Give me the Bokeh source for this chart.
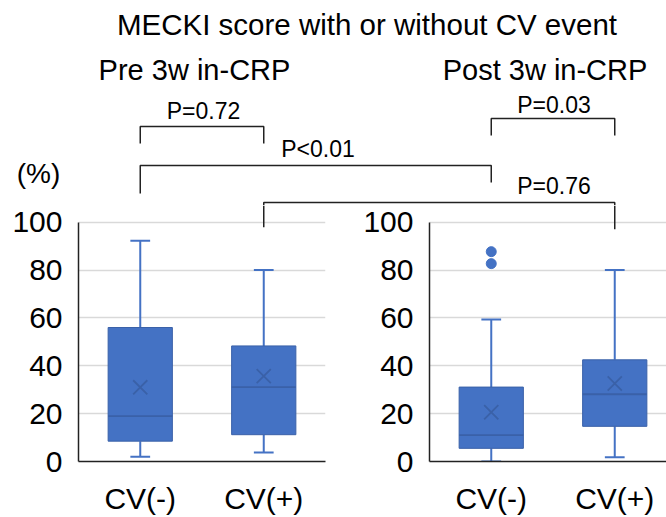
from bokeh.plotting import figure
from bokeh.layouts import column, row
from bokeh.models import Range1d, FixedTicker, ColumnDataSource
from bokeh.core.properties import value
from bokeh.embed import file_html
from bokeh.resources import INLINE

# ---------------- data ----------------
categories = ["CV(-)", "CV(+)"]
y_ticks = [0, 20, 40, 60, 80, 100]

pre_low = [2.0, 3.8]
pre_q1 = [8.5, 11.2]
pre_median = [19.0, 31.1]
pre_q3 = [56.0, 48.3]
pre_high = [92.3, 80.0]
pre_mean = [31.0, 35.7]

post_low = [0.0, 1.8]
post_q1 = [5.5, 14.7]
post_median = [11.0, 28.1]
post_q3 = [31.1, 42.5]
post_high = [59.4, 80.0]
post_mean = [20.6, 32.6]
post_outlier_cat = [0, 0]
post_outlier_val = [82.7, 87.7]

title = "MECKI score with or without CV event"
panel_titles = ["Pre 3w in-CRP", "Post 3w in-CRP"]
p_labels = ["P=0.72", "P<0.01", "P=0.03", "P=0.76"]
y_unit = "(%)"

# ---------------- layout / style ----------------
FONT = "Liberation Sans"
BLUE = "#4472C4"
BLUE_DARK = "#3A61A8"
GRID = "#D9D9D9"
INK = "#222222"

W = 666
TOP_H = 205
LOW_H = 312
FRAME_BOTTOM_PX = 465           # pixel y of value 0
PX_PER_UNIT_Y = 2.43
UNIT_PX = 123.5                 # pixels per category slot
LEFT_FIG_W = 340
LEFT_FRAME_L = 78
RIGHT_FRAME_L = 429
BOTTOM = LOW_H - (FRAME_BOTTOM_PX - TOP_H)
YTOP = (FRAME_BOTTOM_PX - TOP_H) / PX_PER_UNIT_Y
BOX_W = 0.52
CAP_W = 0.16


def make_panel(low, q1, med, q3, high, mean, fig_w, border_l, border_r,
               out_cat=None, out_val=None, tick_to=None):
    frame_w = fig_w - border_l - border_r
    p = figure(width=fig_w, height=LOW_H, output_backend="svg", toolbar_location=None,
               x_range=Range1d(0, frame_w / UNIT_PX), y_range=Range1d(0, YTOP),
               min_border_left=border_l, min_border_right=border_r,
               min_border_top=0, min_border_bottom=BOTTOM)
    p.outline_line_color = None
    p.xgrid.visible = False
    p.ygrid.ticker = FixedTicker(ticks=y_ticks)
    p.ygrid.grid_line_color = GRID
    p.ygrid.grid_line_width = 1.5

    xs = [i + 0.5 for i in range(len(categories))]
    src = ColumnDataSource(dict(
        x=xs, low=low, q1=q1, med=med, q3=q3, high=high, mean=mean,
        bl=[x - BOX_W / 2 for x in xs], br=[x + BOX_W / 2 for x in xs],
        cl=[x - CAP_W / 2 for x in xs], cr=[x + CAP_W / 2 for x in xs]))

    # whiskers
    p.segment(x0="x", y0="q3", x1="x", y1="high", source=src, line_color=BLUE, line_width=2)
    p.segment(x0="x", y0="q1", x1="x", y1="low", source=src, line_color=BLUE, line_width=2)
    p.segment(x0="cl", y0="high", x1="cr", y1="high", source=src, line_color=BLUE, line_width=2)
    p.segment(x0="cl", y0="low", x1="cr", y1="low", source=src, line_color=BLUE, line_width=2)
    # boxes
    p.vbar(x="x", bottom="q1", top="q3", width=BOX_W, source=src,
           fill_color=BLUE, line_color=BLUE_DARK, line_width=1)
    p.segment(x0="bl", y0="med", x1="br", y1="med", source=src, line_color=BLUE_DARK, line_width=1.8)
    p.scatter(x="x", y="mean", source=src, marker="x", size=20,
              line_color=BLUE_DARK, line_width=1.8)
    if out_cat is not None:
        p.scatter(x=[xs[c] for c in out_cat], y=out_val, marker="circle", size=10,
                  fill_color=BLUE, line_color=BLUE)
    if tick_to is not None:
        # continuation of the P=0.76 bracket tick into the panel
        p.segment(x0=[xs[1]], y0=[YTOP], x1=[xs[1]], y1=[tick_to], line_color=INK, line_width=1.5)

    p.xaxis.ticker = FixedTicker(ticks=xs)
    p.xaxis.major_label_overrides = {x: c for x, c in zip(xs, categories)}
    p.yaxis.ticker = FixedTicker(ticks=y_ticks)
    p.yaxis.bounds = (0, 100)
    for ax in (p.xaxis[0], p.yaxis[0]):
        ax.major_tick_in = 0
        ax.major_tick_out = 0
        ax.minor_tick_in = 0
        ax.minor_tick_out = 0
        ax.axis_line_color = INK
        ax.axis_line_width = 1.5
        ax.major_label_text_font = FONT
        ax.major_label_text_font_size = "30px"
        ax.major_label_text_color = "black"
    p.yaxis.major_label_standoff = 16
    p.xaxis.major_label_standoff = 20
    return p


left = make_panel(pre_low, pre_q1, pre_median, pre_q3, pre_high, pre_mean,
                  LEFT_FIG_W, LEFT_FRAME_L, 15, tick_to=97.9)
right = make_panel(post_low, post_q1, post_median, post_q3, post_high, post_mean,
                   W - LEFT_FIG_W, RIGHT_FRAME_L - LEFT_FIG_W, 0,
                   out_cat=post_outlier_cat, out_val=post_outlier_val, tick_to=97.1)

# ---------------- top annotation strip ----------------
top = figure(width=W, height=TOP_H, output_backend="svg", toolbar_location=None,
             x_range=Range1d(0, W), y_range=Range1d(TOP_H, 0),
             min_border=0, min_border_left=0, min_border_right=0,
             min_border_top=0, min_border_bottom=0)
top.outline_line_color = None
top.axis.visible = False
top.grid.visible = False


def cat_px(panel, i):
    return (LEFT_FRAME_L if panel == 0 else RIGHT_FRAME_L) + (i + 0.5) * UNIT_PX


top.text(x=[366.5], y=[23.5], text=[title], text_align="center", text_baseline="middle",
         text_font=value(FONT), text_font_size="29.5px", text_color="black")
top.text(x=[194, 544.5], y=[69, 69], text=panel_titles, text_align="center",
         text_baseline="middle", text_font=value(FONT), text_font_size="29px",
         text_color="black")
top.text(x=[38], y=[173], text=[y_unit], text_align="center", text_baseline="middle",
         text_font=value(FONT), text_font_size="28px", text_color="black")
top.text(x=[203, 317.5, 553.5, 553.5], y=[110, 148, 104, 185], text=p_labels,
         text_align="center", text_baseline="middle", text_font=value(FONT),
         text_font_size="23px", text_color="black")

brackets_x = [
    [cat_px(0, 0), cat_px(0, 0), cat_px(0, 1), cat_px(0, 1)],
    [cat_px(0, 0), cat_px(0, 0), cat_px(1, 0), cat_px(1, 0)],
    [cat_px(1, 0), cat_px(1, 0), cat_px(1, 1), cat_px(1, 1)],
    [cat_px(0, 1), cat_px(0, 1), cat_px(1, 1), cat_px(1, 1)],
]
brackets_y = [
    [143, 126, 126, 143],
    [193, 165, 165, 182],
    [135, 118, 118, 135],
    [TOP_H, 202, 202, TOP_H],
]
top.multi_line(xs=brackets_x, ys=brackets_y, line_color=INK, line_width=1.5)

layout = column(top, row(left, right, spacing=0), spacing=0)

open("out.html", "w").write(file_html(layout, INLINE))
